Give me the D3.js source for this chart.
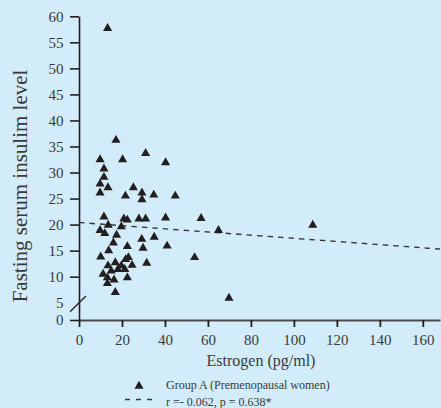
<!DOCTYPE html>
<html>
<head>
<meta charset="utf-8">
<script src="https://cdn.jsdelivr.net/npm/d3@7"></script>
<style>
  body{margin:0;background:#d2ecf9;}
  svg{display:block;font-family:"Liberation Serif","Times New Roman",serif;}
  svg text{font-family:"Liberation Serif","Times New Roman",serif;}
</style>
</head>
<body>
<div class="chart"></div>
<script>
let estrogen=[13.3,17.2,9.8,20.3,31.0,40.3,11.6,11.6,9.8,13.5,9.8,25.3,29.3,29.3,21.6,34.8,44.8,11.6,20.9,22.5,27.9,31.0,40.3,56.8,64.9,108.8,9.8,13.6,12.0,19.7,17.5,16.0,29.2,35.0,13.8,22.5,29.8,41.0,10.1,53.8,31.5,13.5,16.9,21.7,23.0,24.7,19.7,15.0,18.1,21.3,11.2,13.2,16.3,22.5,13.2,16.9,69.8]
let insulin=[57.7,36.2,32.5,32.5,33.7,31.9,30.7,29.1,27.8,27.1,26.1,27.1,26.1,24.8,25.5,25.7,25.5,21.5,21.1,20.9,21.1,21.1,21.3,21.2,18.9,19.9,18.9,19.9,18.3,19.6,18.0,16.5,17.2,17.6,15.0,15.8,15.5,15.9,13.8,13.7,12.6,12.1,12.7,13.3,13.7,12.2,12.1,11.1,11.4,11.4,10.5,9.8,9.4,9.8,8.7,7.0,5.9]
let fitX=[0,168]
let fitY=[20.4,15.3]
let xTicks=[0,20,40,60,80,100,120,140,160]
let yTicks=[0,5,10,15,20,25,30,35,40,45,50,55,60]
let legendLabels=['Group A (Premenopausal women)','r =- 0.062, p = 0.638*']

let w=441,h=408
let ink='#231f20',txt='#3a3a3a'
let data=estrogen.map((d,i)=>({x:d,y:insulin[i]}))

// y axis is broken between 0 and 5
let xScale=d3.scaleLinear().domain([0,168]).range([79,440])
let yScale=d3.scaleLinear().domain([0,5,60]).range([320,302.7,16.3])

let svg=d3.select('.chart').append('svg').attr('width',w).attr('height',h)

let xAxis=d3.axisBottom(xScale).tickValues(xTicks).tickSize(7).tickSizeOuter(0).tickPadding(7)
let yAxis=d3.axisLeft(yScale).tickValues(yTicks).tickSize(9).tickSizeOuter(0).tickPadding(4)

let gx=svg.append('g').attr('transform','translate(0,320)').call(xAxis)
  .attr('font-family',null).attr('font-size',15)
gx.select('.domain').attr('stroke','#4a4a4a').attr('stroke-width',1.8)
gx.selectAll('.tick line').attr('stroke',ink).attr('stroke-width',1.8)
gx.selectAll('.tick text').attr('fill',txt)

let gy=svg.append('g').attr('transform','translate(79,0)').call(yAxis)
  .attr('font-family',null).attr('font-size',15)
gy.select('.domain').attr('stroke',ink).attr('stroke-width',1.6)
gy.selectAll('.tick line').attr('stroke',ink).attr('stroke-width',1.6)
gy.selectAll('.tick').filter(d=>d==5).select('line').remove()
gy.selectAll('.tick text').attr('fill',txt).attr('x',-15.5)

// break mark
svg.append('line').attr('x1',70).attr('y1',311.7).attr('x2',86).attr('y2',296)
  .attr('stroke',ink).attr('stroke-width',1.3)

// regression line
svg.append('line')
  .attr('x1',xScale(fitX[0])).attr('y1',yScale(fitY[0]))
  .attr('x2',xScale(fitX[1])).attr('y2',yScale(fitY[1]))
  .attr('stroke','#3a3a3a').attr('stroke-width',1.4).attr('stroke-dasharray','5.5,5')

let tri=d3.symbol(d3.symbolTriangle,36)
svg.selectAll('.pt').data(data).enter().append('path').attr('class','pt')
  .attr('d',tri)
  .attr('transform',d=>'translate('+xScale(d.x)+','+yScale(d.y)+')')
  .attr('fill',ink)

svg.append('text').text('Estrogen (pg/ml)').attr('x',261).attr('y',366)
  .attr('text-anchor','middle').attr('font-size',16).attr('fill',txt)
svg.append('text').text('Fasting serum insulim level')
  .attr('transform','translate(26.5,186) rotate(-90)')
  .attr('text-anchor','middle').attr('font-size',21).attr('fill',txt)

// legend
svg.append('path').attr('d',tri).attr('transform','translate(139,386)').attr('fill',ink)
svg.append('line').attr('x1',125).attr('y1',399.5).attr('x2',152).attr('y2',399.5)
  .attr('stroke','#3a3a3a').attr('stroke-width',1.4).attr('stroke-dasharray','5,6')
svg.selectAll('.leg').data(legendLabels).enter().append('text').attr('class','leg')
  .text(d=>d).attr('x',166).attr('y',(d,i)=>389+i*16.5)
  .attr('font-size',12).attr('fill',txt)
</script>
</body>
</html>
